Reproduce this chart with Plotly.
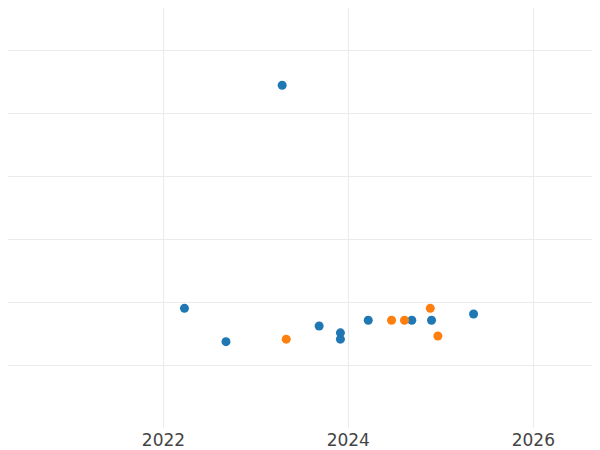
import plotly.graph_objects as go

blue_dates = ["2022-03-25", "2022-09-05", "2023-04-15", "2023-09-08", "2023-12-01",
              "2023-12-01", "2024-03-20", "2024-09-08", "2024-11-25", "2025-05-10"]
blue_vals = [0.9, 0.37, 4.44, 0.62, 0.51, 0.41, 0.71, 0.71, 0.71, 0.81]
orange_dates = ["2023-05-01", "2024-06-20", "2024-08-10", "2024-11-20", "2024-12-20"]
orange_vals = [0.41, 0.71, 0.71, 0.9, 0.46]

fig = go.Figure()
fig.add_trace(go.Scatter(x=blue_dates, y=blue_vals, mode="markers",
                         marker=dict(color="#1f77b4", size=9)))
fig.add_trace(go.Scatter(x=orange_dates, y=orange_vals, mode="markers",
                         marker=dict(color="#ff7f0e", size=9)))

fig.update_layout(
    width=600, height=450, showlegend=False,
    plot_bgcolor="white", paper_bgcolor="white",
    margin=dict(l=0, r=0, t=0, b=30),
    xaxis=dict(range=["2020-04-27", "2026-10-23"], dtick="M24", tick0="2022-01-01",
               tickformat="%Y", gridcolor="#ebebeb", zeroline=False,
               tickfont=dict(size=17, color="#444", family="DejaVu Sans")),
    yaxis=dict(range=[-1.0, 5.667], dtick=1, showticklabels=False,
               gridcolor="#ebebeb", zeroline=False),
)
fig.write_html("out.html")
